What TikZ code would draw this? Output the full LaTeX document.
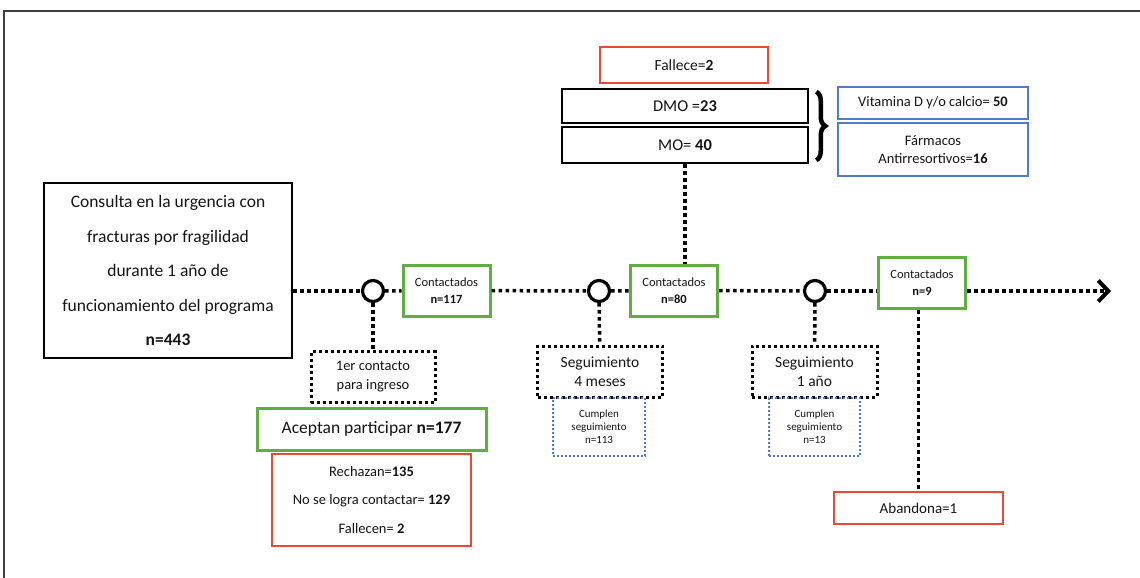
\documentclass[tikz,border=0pt]{standalone}
\usepackage{fontspec}
\setmainfont{Carlito}
\usepackage{xcolor}
\usepackage{tikz}
\usetikzlibrary{positioning, arrows.meta, decorations.pathreplacing}
\definecolor{verde}{RGB}{96,174,66}
\definecolor{rojo}{RGB}{236,72,52}
\definecolor{azul}{RGB}{78,124,202}
\tikzstyle{caja} = [draw=black, line width=2.5pt, align=center, inner sep=0pt, text=black!92]
\tikzstyle{punteado} = [line width=3.5pt, dash pattern=on 3.5pt off 3.5pt]

\begin{document}
\begin{tikzpicture}[
    x=1pt, y=-1pt,
    hito/.style={circle, draw, fill=white, line width=3.2pt, minimum size=21pt, inner sep=0pt},
    contacto/.style={caja, draw=verde, line width=3pt, minimum width=87pt, minimum height=51pt, font=\fontsize{12.5}{17}\selectfont},
    etapa/.style={caja, line width=3pt, dash pattern=on 3pt off 3pt, minimum width=125pt, minimum height=51pt, font=\fontsize{15.5}{19}\selectfont},
    cumple/.style={caja, draw=azul, line width=2pt, dash pattern=on 2pt off 2pt, minimum width=92pt, minimum height=58pt, font=\fontsize{11}{13}\selectfont},
    salida/.style={caja, draw=rojo, line width=2.5pt},
    terapia/.style={caja, draw=azul, line width=2pt, minimum width=190pt, font=\fontsize{14.5}{18}\selectfont}
]
\useasboundingbox (0,0) rectangle (1140,578);
\draw[line width=1.5pt, black!75] (1140,11) -- (4,11) -- (4,578);

% Nodes
\node[caja, minimum width=248pt, minimum height=175pt, font=\fontsize{17.5}{34.5}\selectfont] (consulta) at (168,270.5)
    {Consulta en la urgencia con\\fracturas por fragilidad\\durante 1 año de\\funcionamiento del programa\\\textbf{n=443}};

\node[hito] (c1) at (373,291) {};
\node[hito] (c2) at (599,291) {};
\node[hito] (c3) at (815,291) {};

\node[contacto] (cont1) at (446.5,290.5) {Contactados\\\textbf{n=117}};
\node[contacto] (cont2) at (674,290.5) {Contactados\\\textbf{n=80}};
\node[contacto] (cont3) at (922,283) {Contactados\\\textbf{n=9}};
\coordinate (fin) at (1111,291);

\node[etapa, minimum width=124pt, font=\fontsize{14.5}{19}\selectfont] (ingreso) at (373,377) {1er contacto\\para ingreso};
\node[caja, draw=verde, line width=3pt, minimum width=229pt, minimum height=42pt, font=\fontsize{17.5}{20}\selectfont] (acepta) at (371.5,429) {Aceptan participar \textbf{n=177}};
\node[salida, minimum width=199pt, minimum height=92pt, font=\fontsize{14.5}{28.5}\selectfont] (rechazo) at (371.5,500)
    {Rechazan=\textbf{135}\\No se logra contactar= \textbf{129}\\Fallecen= \textbf{2}};

\node[etapa] (meses) at (600,371.5) {Seguimiento\\4 meses};
\node[cumple] (cumple4) at (599,427) {Cumplen\\seguimiento\\n=113};
\node[etapa] (anio) at (814.5,371.5) {Seguimiento\\1 año};
\node[cumple, minimum width=91pt] (cumple1) at (814.5,427) {Cumplen\\seguimiento\\n=13};

\node[salida, minimum width=169pt, minimum height=32pt, font=\fontsize{15}{18}\selectfont] (abandona) at (918.5,508) {Abandona=1};

\node[salida, minimum width=168pt, minimum height=36pt, font=\fontsize{15.5}{18}\selectfont] (fallece) at (684,65) {Fallece=\textbf{2}};
\node[caja, minimum width=246pt, minimum height=34pt, font=\fontsize{16.5}{19}\selectfont] (dmo) at (685,106) {DMO =\textbf{23}};
\node[caja, minimum width=246pt, minimum height=36pt, font=\fontsize{16.5}{19}\selectfont, below=1.5pt of dmo] (mo) {MO= \textbf{40}};

\node[terapia, minimum height=32pt] (vitamina) at (933,103) {Vitamina D y/o calcio= \textbf{50}};
\node[terapia, minimum height=53pt, below=2pt of vitamina] (farmacos) {Fármacos\\Antirresortivos=\textbf{16}};

% Arrows
\draw[punteado] (consulta.east |- c1) -- (c1);
\draw[punteado] (c1) -- (cont1);
\draw[punteado] (cont1) -- (c2);
\draw[punteado] (c2) -- (cont2);
\draw[punteado] (cont2) -- (c3);
\draw[punteado] (c3) -- (c3 -| cont3.west);
\draw[punteado, -{Straight Barb[length=10pt, width=21pt, line width=4pt]}] (cont3.east |- c3) -- (fin);

\draw[punteado] (c1) -- (ingreso);
\draw[punteado] (c2) -- (meses);
\draw[punteado] (c3) -- (anio);
\draw[punteado] (cont3.south -| abandona.north) -- (abandona);
\draw[punteado] (mo.south) -- (mo.south |- cont2.north);

\draw[decorate, decoration={brace, amplitude=9pt, aspect=0.5}, line width=4.5pt] ([xshift=7pt, yshift=-4pt]dmo.north east) -- ([xshift=7pt, yshift=4pt]mo.south east);

\end{tikzpicture}
\end{document}
